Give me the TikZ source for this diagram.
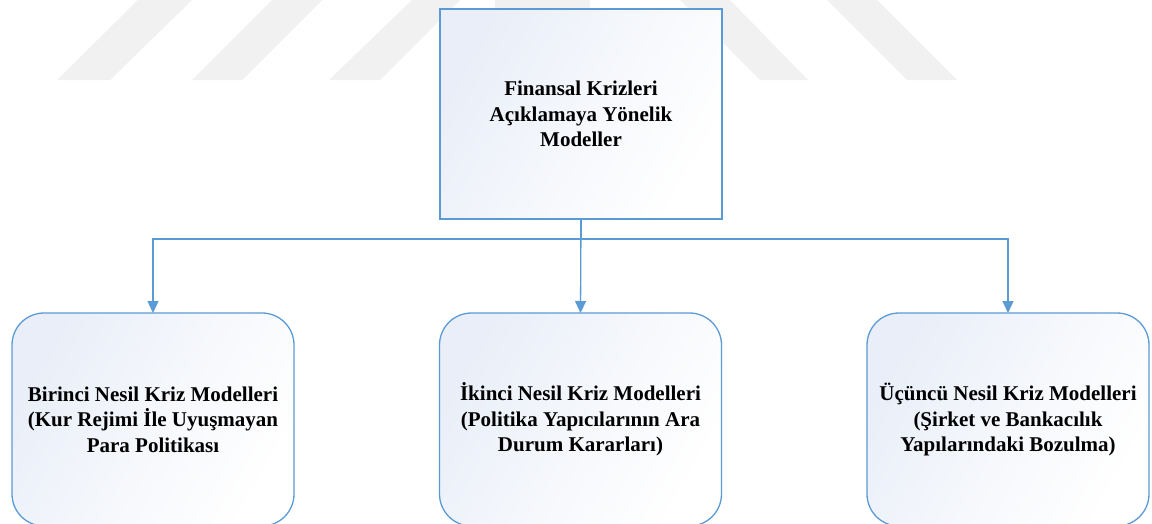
\documentclass[tikz,border=0pt]{standalone}
\usepackage{fontspec}
\setmainfont{Liberation Serif}
\usetikzlibrary{arrows.meta}
\definecolor{edgeblue}{RGB}{91,155,213}
\definecolor{shadeblue}{RGB}{233,238,248}
\definecolor{markgray}{RGB}{241,241,241}
\tikzset{
  mark stripe/.style={fill=markgray, draw=none},
  boxtext/.style={font=\fontsize{21}{25.5}\selectfont\bfseries, align=center,
    text=black, outer sep=0pt, inner sep=0pt},
  squarebox/.style={boxtext, draw=edgeblue, line width=1.3pt,
    left color=shadeblue, right color=white, middle color=white!55!shadeblue,
    shading angle=60, minimum width=282pt, minimum height=210pt},
  roundbox/.style={boxtext, draw=edgeblue, line width=1.3pt, rounded corners=32pt,
    left color=shadeblue, right color=white, middle color=white!55!shadeblue,
    shading angle=60, minimum width=282pt, minimum height=213pt},
  conn/.style={draw=edgeblue, line width=1.3pt,
    -{Triangle[length=12pt,width=11pt]}},
}
\begin{document}
\begin{tikzpicture}[x=1pt,y=-1pt]
\clip (0,0) rectangle (1152,523);
\fill[white] (0,0) rectangle (1152,523);

% faint background stripes
\fill[mark stripe] (57,80) -- (110,80) -- (192,0) -- (138,0) -- cycle;
\fill[mark stripe] (192,80) -- (242,80) -- (322,0) -- (272,0) -- cycle;
\fill[mark stripe] (329,80) -- (380,80) -- (460,0) -- (412,0) -- cycle;
\fill[mark stripe] (760,80) -- (808,80) -- (730,0) -- (680,0) -- cycle;
\fill[mark stripe] (907,80) -- (957,80) -- (877,0) -- (827,0) -- cycle;
\fill[mark stripe] (495,0) rectangle (590,9);

% root
\node[squarebox] (top) at (581,114)
  {Finansal Krizleri\\Açıklamaya Yönelik\\Modeller};

% three model generations
\node[roundbox] (b1) at (153,419.5)
  {Birinci Nesil Kriz Modelleri\\(Kur Rejimi İle Uyuşmayan\\Para Politikası};
\node[roundbox] (b2) at (580.5,419.5)
  {İkinci Nesil Kriz Modelleri\\(Politika Yapıcılarının Ara\\Durum Kararları)};
\node[roundbox] (b3) at (1008,419.5)
  {Üçüncü Nesil Kriz Modelleri\\(Şirket ve Bankacılık\\Yapılarındaki Bozulma)};

% connectors
\draw[conn] (top.south) -- ++(0,20) -| (b1.north);
\draw[conn] (top.south) -- ++(0,20) -| (b3.north);
\draw[conn] (top.south) -- (b2.north);
\end{tikzpicture}
\end{document}
